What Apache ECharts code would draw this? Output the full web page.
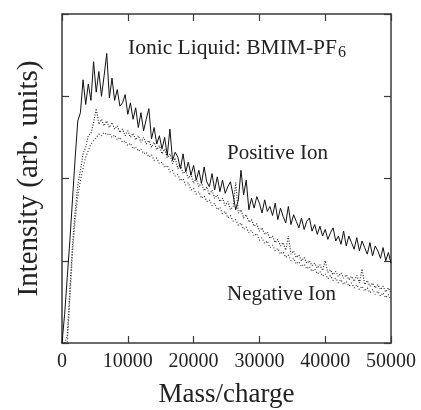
<!DOCTYPE html>
<html>
<head>
<meta charset="utf-8">
<script src="https://cdn.jsdelivr.net/npm/echarts@6/dist/echarts.min.js"></script>
<style>
  html, body { margin: 0; padding: 0; background: #fff; }
  #chart { width: 421px; height: 410px; }
</style>
</head>
<body>
<div id="chart"></div>
<script>
// mass/charge sampling points (shared by all three traces)
const massCharge = [
  0, 400, 800, 1200, 1600, 2000, 2400, 2800, 3200, 3600,
  4000, 4400, 4800, 5200, 5600, 6000, 6400, 6800, 7200, 7600,
  8000, 8400, 8800, 9200, 9600, 10000, 10400, 10800, 11200, 11600,
  12000, 12400, 12800, 13200, 13600, 14000, 14400, 14800, 15200, 15600,
  16000, 16400, 16800, 17200, 17600, 18000, 18400, 18800, 19200, 19600,
  20000, 20400, 20800, 21200, 21600, 22000, 22400, 22800, 23200, 23600,
  24000, 24400, 24800, 25200, 25600, 26000, 26400, 26800, 27200, 27600,
  28000, 28400, 28800, 29200, 29600, 30000, 30400, 30800, 31200, 31600,
  32000, 32400, 32800, 33200, 33600, 34000, 34400, 34800, 35200, 35600,
  36000, 36400, 36800, 37200, 37600, 38000, 38400, 38800, 39200, 39600,
  40000, 40400, 40800, 41200, 41600, 42000, 42400, 42800, 43200, 43600,
  44000, 44400, 44800, 45200, 45600, 46000, 46400, 46800, 47200, 47600,
  48000, 48400, 48800, 49200, 49600, 50000
]

// positive ion intensity (solid)
const positiveIon = [
  0, 0.35, 0.8, 1.25, 1.75, 2.25, 2.7, 2.8, 3.2, 2.9,
  3.15, 2.95, 3.42, 3.05, 3.3, 3.0, 3.25, 3.52, 2.98, 3.22,
  2.95, 3.08, 2.88, 2.92, 3.02, 2.78, 2.92, 2.72, 2.86, 2.62,
  2.8, 2.58, 2.72, 2.85, 2.48, 2.62, 2.42, 2.52, 2.36, 2.5,
  2.28, 2.6, 2.22, 2.32, 2.26, 2.12, 2.3, 2.08, 2.2, 2.04,
  2.16, 1.98, 2.1, 1.94, 2.14, 1.96, 1.9, 2.06, 1.86, 2.02,
  1.84, 1.98, 1.82, 1.9, 1.96, 1.8, 1.62, 1.74, 2.1, 1.8,
  1.98, 1.62, 1.76, 1.64, 1.78, 1.7, 1.58, 1.74, 1.6, 1.66,
  1.55, 1.7, 1.5, 1.64, 1.54, 1.46, 1.66, 1.44, 1.56, 1.48,
  1.4, 1.52, 1.38, 1.48, 1.52, 1.36, 1.44, 1.32, 1.42, 1.3,
  1.38, 1.26, 1.34, 1.4, 1.24, 1.3, 1.2, 1.36, 1.18, 1.3,
  1.22, 1.14, 1.28, 1.12, 1.24, 1.16, 1.08, 1.22, 1.06, 1.18,
  1.12, 1.03, 1.16, 1.0, 1.1, 0.97
]

// negative ion intensity, two dotted traces
const negativeIonA = [
  0, 0, 0.08, 0.65, 1.2, 1.6, 1.92, 2.1, 2.3, 2.38,
  2.52, 2.55, 2.68, 2.85, 2.66, 2.72, 2.64, 2.7, 2.62, 2.68,
  2.6, 2.64, 2.56, 2.6, 2.52, 2.58, 2.5, 2.55, 2.47, 2.52,
  2.44, 2.5, 2.42, 2.46, 2.38, 2.44, 2.35, 2.4, 2.3, 2.36,
  2.25, 2.3, 2.18, 2.25, 2.12, 2.17, 2.06, 2.1, 2.0, 2.05,
  1.94, 2.0, 1.9, 1.95, 1.85, 1.9, 1.8, 1.86, 1.76, 1.8,
  1.72, 1.76, 1.67, 1.72, 1.62, 1.66, 1.95, 1.58, 1.62, 1.52,
  1.56, 1.47, 1.5, 1.42, 1.45, 1.36, 1.4, 1.32, 1.35, 1.27,
  1.3, 1.22, 1.26, 1.18, 1.22, 1.13, 1.3, 1.08, 1.12, 1.04,
  1.07, 1.0, 1.04, 0.97, 1.0, 0.94, 0.97, 0.91, 0.95, 0.88,
  1.0, 0.86, 0.89, 0.83, 0.87, 0.81, 0.85, 0.79, 0.83, 0.77,
  0.81, 0.75, 0.82, 0.73, 0.9, 0.71, 0.76, 0.69, 0.73, 0.67,
  0.71, 0.65, 0.69, 0.62, 0.67, 0.6
]
const negativeIonB = [
  0, 0, 0, 0.55, 1.1, 1.5, 1.78, 1.98, 2.12, 2.26,
  2.34, 2.42, 2.46, 2.5, 2.54, 2.52, 2.56, 2.53, 2.55, 2.5,
  2.53, 2.47, 2.5, 2.44, 2.46, 2.4, 2.43, 2.36, 2.39, 2.33,
  2.36, 2.3, 2.32, 2.26, 2.29, 2.22, 2.25, 2.18, 2.2, 2.13,
  2.16, 2.08, 2.1, 2.03, 2.05, 1.97, 2.0, 1.92, 1.95, 1.86,
  1.88, 1.81, 1.84, 1.76, 1.79, 1.72, 1.74, 1.67, 1.7, 1.62,
  1.65, 1.57, 1.6, 1.52, 1.55, 1.48, 1.5, 1.43, 1.46, 1.38,
  1.41, 1.34, 1.37, 1.3, 1.33, 1.25, 1.28, 1.21, 1.24, 1.16,
  1.19, 1.12, 1.15, 1.08, 1.11, 1.04, 1.07, 1.0, 1.03, 0.96,
  0.99, 0.93, 0.96, 0.9, 0.93, 0.87, 0.9, 0.84, 0.87, 0.81,
  0.84, 0.78, 0.82, 0.76, 0.79, 0.73, 0.77, 0.71, 0.75, 0.69,
  0.73, 0.67, 0.71, 0.65, 0.69, 0.63, 0.67, 0.61, 0.65, 0.59,
  0.63, 0.57, 0.61, 0.55, 0.59, 0.53
]

const xTickLabels = ['0', '10000', '20000', '30000', '40000', '50000']

const serif = 'Liberation Serif'
const ink = '#222'
const frame = { show: true, onZero: false, lineStyle: { color: '#3a3a3a', width: 1.5 } }
const inTicks = { show: true, inside: true, length: 7, lineStyle: { color: '#3a3a3a', width: 1.2 } }

function pairs(vals) {
  return massCharge.map((m, i) => [m, vals[i]])
}

const chart = echarts.init(document.getElementById('chart'))
chart.setOption({
  animation: false,
  grid: { left: 62, right: 30, top: 14, bottom: 67, outerBoundsMode: 'none' },
  xAxis: [{
    type: 'value',
    min: 0,
    max: 50000,
    interval: 10000,
    name: 'Mass/charge',
    nameLocation: 'middle',
    nameGap: 38,
    nameTextStyle: { fontFamily: serif, fontSize: 27, color: ink },
    axisLine: frame,
    axisTick: inTicks,
    splitLine: { show: false },
    axisLabel: {
      margin: 9,
      fontFamily: serif,
      fontSize: 20,
      color: ink,
      formatter: v => xTickLabels[Math.round(v / 10000)]
    }
  }, {
    type: 'value',
    position: 'top',
    min: 0,
    max: 50000,
    interval: 10000,
    axisLine: frame,
    axisTick: inTicks,
    axisLabel: { show: false },
    splitLine: { show: false }
  }],
  yAxis: [{
    type: 'value',
    min: 0,
    max: 4,
    interval: 1,
    name: 'Intensity (arb. units)',
    nameLocation: 'middle',
    nameGap: 18,
    nameTextStyle: { fontFamily: serif, fontSize: 29, color: ink },
    axisLine: frame,
    axisTick: inTicks,
    axisLabel: { show: false },
    splitLine: { show: false }
  }, {
    type: 'value',
    position: 'right',
    min: 0,
    max: 4,
    interval: 1,
    axisLine: frame,
    axisTick: inTicks,
    axisLabel: { show: false },
    splitLine: { show: false }
  }],
  graphic: [
    { type: 'text', left: 128, top: 37, style: { text: 'Ionic Liquid: BMIM-PF', font: '21.5px "Liberation Serif"', fill: ink } },
    { type: 'text', left: 338, top: 45, style: { text: '6', font: '16px "Liberation Serif"', fill: ink } },
    { type: 'text', left: 227, top: 143, style: { text: 'Positive Ion', font: '21px "Liberation Serif"', fill: ink } },
    { type: 'text', left: 227, top: 284, style: { text: 'Negative Ion', font: '21px "Liberation Serif"', fill: ink } }
  ],
  series: [{
    name: 'Negative Ion A',
    type: 'line',
    data: pairs(negativeIonA),
    showSymbol: false,
    lineStyle: { color: '#2a2a2a', width: 1.2, type: [1, 1.6] }
  }, {
    name: 'Negative Ion B',
    type: 'line',
    data: pairs(negativeIonB),
    showSymbol: false,
    lineStyle: { color: '#333', width: 1.2, type: [1, 2] }
  }, {
    name: 'Positive Ion',
    type: 'line',
    data: pairs(positiveIon),
    showSymbol: false,
    lineStyle: { color: '#111', width: 1 }
  }]
})
</script>
</body>
</html>
